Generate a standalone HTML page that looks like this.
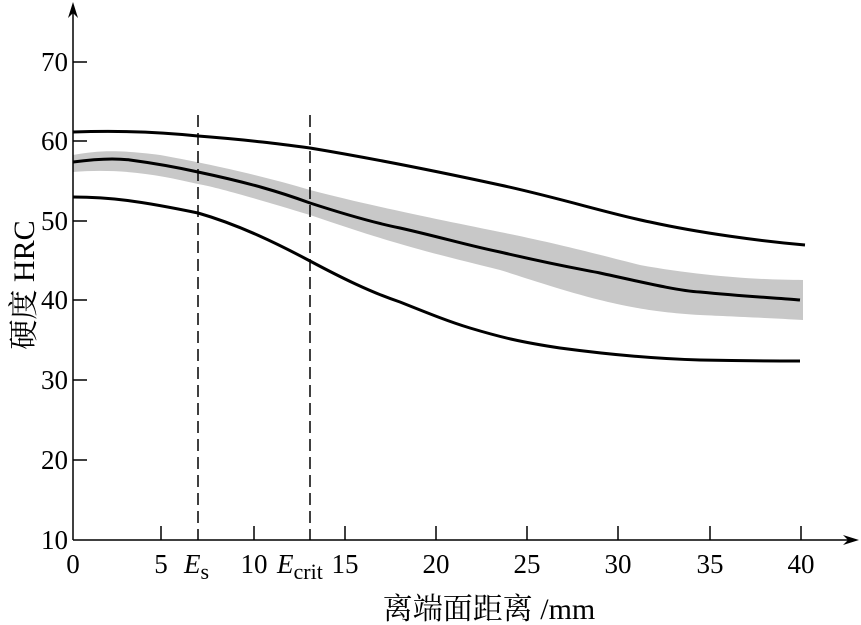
<!DOCTYPE html><html><head><style>body{margin:0;background:#fff}svg{display:block}text{font-family:"Liberation Serif","Noto Serif CJK SC",serif;fill:#000}</style></head><body>
<svg width="861" height="625" viewBox="0 0 861 625" xmlns="http://www.w3.org/2000/svg">
<path d="M73,155 C100,150 120,150 160,155 C200,162 260,175 310,190 C360,203 420,216 500,232 C560,244 600,255 640,265 C700,276 760,280 803,280 L803,320 C770,318 720,316 700,315 C650,312 620,305 600,300 C560,290 520,276 500,270 C440,255 400,246 310,215 C260,200 220,188 198,184 C160,175 120,168 73,172 Z" fill="#c8c8c8"/>
<g fill="none" stroke="#000" stroke-width="3">
<path d="M73,132 C130,130 170,133 198,136 C250,140 280,144 310,148 C370,158 440,172 500,185 C560,198 610,214 650,222 C700,233 760,241 805,245"/>
<path d="M73,162 C95,159 115,158 130,160 C160,164 180,168 198,172 C250,183 280,192 310,203 C350,216 380,224 400,228 C440,237 470,246 500,252 C560,266 580,269 600,273 C650,284 680,291 700,292 C750,297 780,298 800,300"/>
<path d="M73,197 C110,197 140,201 198,213 C240,225 280,245 310,261 C340,277 370,292 400,302 C430,314 450,322 470,328 C500,337 520,342 560,348 C620,356 660,359 700,360 C750,361 780,361 800,361"/>
</g>
<g stroke="#000" stroke-width="1.5" stroke-dasharray="12,6" fill="none">
<line x1="198" y1="115" x2="198" y2="540"/><line x1="310" y1="115" x2="310" y2="540"/>
</g>
<g stroke="#000" stroke-width="1.5">
<line x1="73" y1="540" x2="850" y2="540"/><line x1="73" y1="540" x2="73" y2="8"/>
<line x1="73" y1="62" x2="87" y2="62"/><line x1="73" y1="141" x2="87" y2="141"/><line x1="73" y1="221" x2="87" y2="221"/><line x1="73" y1="300" x2="87" y2="300"/><line x1="73" y1="380" x2="87" y2="380"/><line x1="73" y1="460" x2="87" y2="460"/>
<line x1="161" y1="540" x2="161" y2="526"/><line x1="254" y1="540" x2="254" y2="526"/><line x1="345" y1="540" x2="345" y2="526"/><line x1="436" y1="540" x2="436" y2="526"/><line x1="527" y1="540" x2="527" y2="526"/><line x1="618" y1="540" x2="618" y2="526"/><line x1="710" y1="540" x2="710" y2="526"/><line x1="801" y1="540" x2="801" y2="526"/>
</g>
<path d="M73,2 L68,18 L73,13 L78,18 Z"/><path d="M859,540 L843,535 L848,540 L843,545 Z"/>
<g font-size="27" text-anchor="end">
<text x="68" y="71">70</text><text x="68" y="150">60</text><text x="68" y="230">50</text><text x="68" y="309">40</text><text x="68" y="389">30</text><text x="68" y="469">20</text><text x="68" y="549">10</text>
</g>
<g font-size="27" text-anchor="middle">
<text x="73" y="573">0</text><text x="161" y="573">5</text><text x="254" y="573">10</text><text x="345" y="573">15</text><text x="436" y="573">20</text><text x="527" y="573">25</text><text x="618" y="573">30</text><text x="710" y="573">35</text><text x="801" y="573">40</text>
</g>
<text x="184" y="573" font-size="27" font-style="italic">E<tspan font-style="normal" font-size="22" dy="6">s</tspan></text>
<text x="277" y="573" font-size="27" font-style="italic">E<tspan font-style="normal" font-size="22" dy="6">crit</tspan></text>
<text x="489" y="619" font-size="30" text-anchor="middle">离端面距离 /mm</text>
<text transform="translate(34,285) rotate(-90)" font-size="30" text-anchor="middle">硬度 HRC</text>
</svg></body></html>
